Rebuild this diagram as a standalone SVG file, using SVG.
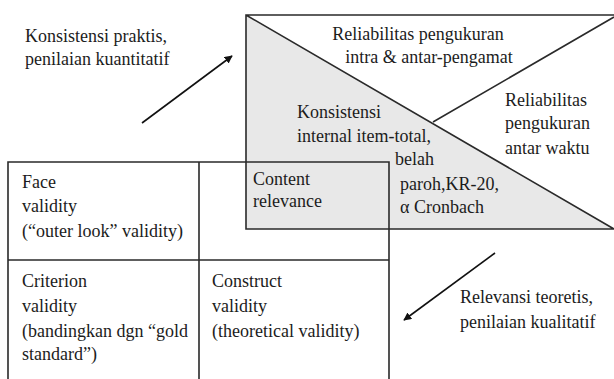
<svg xmlns="http://www.w3.org/2000/svg" width="614" height="379" viewBox="0 0 614 379">
<defs>
<marker id="ah" viewBox="0 0 10 10" refX="9" refY="5" markerWidth="5" markerHeight="5" orient="auto"><path d="M0,0L10,5L0,10z" fill="#111"/></marker>
</defs>
<rect width="614" height="379" fill="#fff"/>
<g id="reliability">
<polygon points="246,15 246,229 614,229" fill="#e8e8e8"/>
<path d="M614,15H246V229H614M246,15L614,229M433,122L614,17" stroke="#2a2a2a" stroke-width="1.6" fill="none"/>
<text x="418" y="40" text-anchor="middle" font-family="Liberation Serif" font-size="18" fill="#1c1c1c">Reliabilitas pengukuran</text>
<text x="429" y="63" text-anchor="middle" font-family="Liberation Serif" font-size="18" fill="#1c1c1c">intra &amp; antar-pengamat</text>
<text x="505" y="106" font-family="Liberation Serif" font-size="18" fill="#1c1c1c">Reliabilitas</text>
<text x="505" y="129" font-family="Liberation Serif" font-size="18" fill="#1c1c1c">pengukuran</text>
<text x="505" y="154" font-family="Liberation Serif" font-size="18" fill="#1c1c1c">antar waktu</text>
<text x="297" y="118" font-family="Liberation Serif" font-size="18" fill="#1c1c1c">Konsistensi</text>
<text x="297" y="142" font-family="Liberation Serif" font-size="18" fill="#1c1c1c">internal item-total,</text>
<text x="395" y="165" font-family="Liberation Serif" font-size="18" fill="#1c1c1c">belah</text>
<text x="400" y="190" font-family="Liberation Serif" font-size="18" fill="#1c1c1c">paroh,KR-20,</text>
<text x="400" y="213" font-family="Liberation Serif" font-size="18" fill="#1c1c1c">α Cronbach</text>
</g>
<g id="validity">
<path d="M8,379V162H389V379M199,162V379M8,260H389" stroke="#2a2a2a" stroke-width="1.6" fill="none"/>
<text x="22" y="188" font-family="Liberation Serif" font-size="18" fill="#1c1c1c">Face</text>
<text x="22" y="212" font-family="Liberation Serif" font-size="18" fill="#1c1c1c">validity</text>
<text x="22" y="237" font-family="Liberation Serif" font-size="18" fill="#1c1c1c">(“outer look” validity)</text>
<text x="22" y="287" font-family="Liberation Serif" font-size="18" fill="#1c1c1c">Criterion</text>
<text x="22" y="312" font-family="Liberation Serif" font-size="18" fill="#1c1c1c">validity</text>
<text x="22" y="337" font-family="Liberation Serif" font-size="18" fill="#1c1c1c">(bandingkan dgn “gold</text>
<text x="22" y="360" font-family="Liberation Serif" font-size="18" fill="#1c1c1c">standard”)</text>
<text x="212" y="287" font-family="Liberation Serif" font-size="18" fill="#1c1c1c">Construct</text>
<text x="212" y="312" font-family="Liberation Serif" font-size="18" fill="#1c1c1c">validity</text>
<text x="212" y="337" font-family="Liberation Serif" font-size="18" fill="#1c1c1c">(theoretical validity)</text>
</g>
<g id="content">
<text x="253" y="185" font-family="Liberation Serif" font-size="18" fill="#1c1c1c">Content</text>
<text x="253" y="207" font-family="Liberation Serif" font-size="18" fill="#1c1c1c">relevance</text>
</g>
<g id="labels">
<text x="25" y="42" font-family="Liberation Serif" font-size="18" fill="#1c1c1c">Konsistensi praktis,</text>
<text x="25" y="65" font-family="Liberation Serif" font-size="18" fill="#1c1c1c">penilaian kuantitatif</text>
<text x="460" y="303" font-family="Liberation Serif" font-size="18" fill="#1c1c1c">Relevansi teoretis,</text>
<text x="460" y="328" font-family="Liberation Serif" font-size="18" fill="#1c1c1c">penilaian kualitatif</text>
</g>
<g id="connectors">
<line x1="142" y1="123" x2="232" y2="56" stroke="#111" stroke-width="1.6" marker-end="url(#ah)"/>
<line x1="495" y1="253" x2="404" y2="320" stroke="#111" stroke-width="1.6" marker-end="url(#ah)"/>
</g>
</svg>
